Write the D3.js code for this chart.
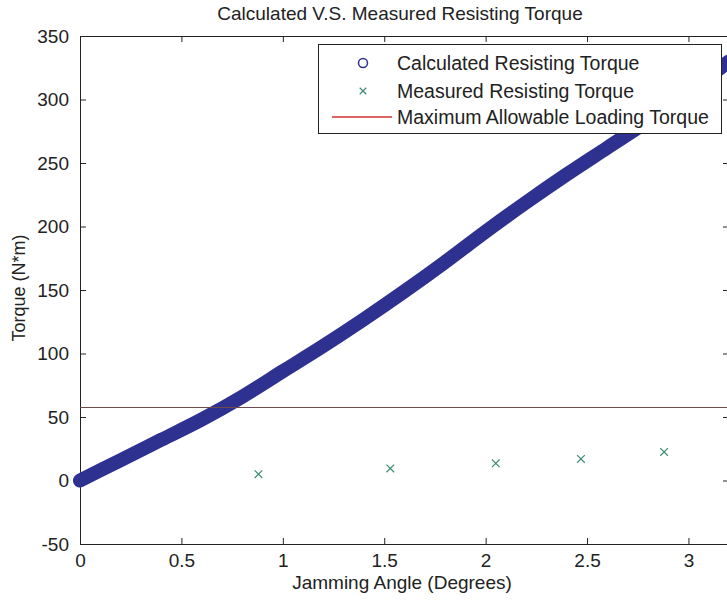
<!DOCTYPE html>
<html>
<head>
<meta charset="utf-8">
<style>
  body { margin: 0; background: #fff; }
  text { font-family: "Liberation Sans", Arial, sans-serif; fill: #222; }
</style>
</head>
<body>
<svg width="727" height="600"></svg>
<script src="https://d3js.org/d3.v7.min.js"></script>
<script>

  // calculated resisting torque, every 0.2 degrees
  var calcAngle = [0, 0.2, 0.4, 0.6, 0.8, 1.0, 1.2, 1.4, 1.6, 1.8, 2.0, 2.2, 2.4, 2.6, 2.8, 3.0, 3.2];
  var calcTorque = [0, 16, 32, 48, 66, 86, 106, 127, 149, 172, 196, 219, 241, 262, 283, 306, 330];

  // measured resisting torque (x markers)
  var measAngle = [0.88, 1.53, 2.05, 2.47, 2.88];
  var measTorque = [5, 9.5, 13.5, 17, 22.5];

  // maximum allowable loading torque
  var maxTorque = 57.5;

  var xTicks = [0, 0.5, 1, 1.5, 2, 2.5, 3];
  var yTicks = [-50, 0, 50, 100, 150, 200, 250, 300, 350];

  var seriesNames = ["Calculated Resisting Torque", "Measured Resisting Torque", "Maximum Allowable Loading Torque"];

  var svg = d3.select("svg"),
    m = {left: 80, top: 36, bottom: 544, right: 729};

  var x = d3.scaleLinear().domain([0, 3.2]).range([m.left, m.right]);
  var y = d3.scaleLinear().domain([-50, 350]).range([m.bottom, m.top]);

  var blue = "#2e3190", green = "#3f8c72", red = "#d23030";

  // title
  svg.append("text")
    .attr("x", 400).attr("y", 20)
    .attr("text-anchor", "middle")
    .style("font-size", "19px")
    .text("Calculated V.S. Measured Resisting Torque");

  // axes (MATLAB style: ticks point inward, box on)
  var xAxis = svg.append("g")
    .attr("transform", "translate(0," + m.bottom + ")")
    .call(d3.axisBottom(x).tickValues(xTicks).tickSizeInner(-6).tickSizeOuter(0).tickPadding(10)
      .tickFormat(function (d) { return String(d); }));
  svg.append("g")
    .attr("transform", "translate(0," + m.top + ")")
    .call(d3.axisTop(x).tickValues(xTicks).tickSizeInner(-6).tickSizeOuter(0).tickFormat(""));
  var yAxis = svg.append("g")
    .attr("transform", "translate(" + m.left + ",0)")
    .call(d3.axisLeft(y).tickValues(yTicks).tickSizeInner(-6).tickSizeOuter(0).tickPadding(10)
      .tickFormat(function (d) { return String(d); }));
  svg.append("g")
    .attr("transform", "translate(" + m.right + ",0)")
    .call(d3.axisRight(y).tickValues(yTicks).tickSizeInner(-6).tickSizeOuter(0).tickFormat(""));

  svg.selectAll(".domain").attr("stroke", "#222");
  svg.selectAll(".tick line").attr("stroke", "#222");
  xAxis.selectAll(".tick text").style("font-size", "19px").attr("fill", "#222");
  yAxis.selectAll(".tick text").style("font-size", "19px").attr("fill", "#222").attr("dx", "-1");

  // axis labels
  svg.append("text")
    .attr("x", 402).attr("y", 589)
    .attr("text-anchor", "middle")
    .style("font-size", "19px")
    .text("Jamming Angle (Degrees)");
  svg.append("text")
    .attr("transform", "translate(25,288) rotate(-90)")
    .attr("text-anchor", "middle")
    .style("font-size", "18px")
    .text("Torque (N*m)");

  // calculated: dense circle markers form a thick band
  var calc = calcAngle.map(function (a, i) { return {a: a, t: calcTorque[i]}; });
  var line = d3.line()
    .x(function (d) { return x(d.a); })
    .y(function (d) { return y(d.t); })
    .curve(d3.curveMonotoneX);

  svg.append("path")
    .datum(calc)
    .attr("fill", "none")
    .attr("stroke", blue)
    .attr("stroke-width", 14)
    .attr("stroke-linecap", "round")
    .attr("d", line);

  svg.append("g").selectAll("circle")
    .data(calc)
    .join("circle")
    .attr("cx", function (d) { return x(d.a); })
    .attr("cy", function (d) { return y(d.t); })
    .attr("r", 6)
    .attr("fill", blue)
    .attr("stroke", blue);

  // max allowable line
  svg.append("line")
    .attr("x1", x(0)).attr("x2", x(3.2))
    .attr("y1", y(maxTorque)).attr("y2", y(maxTorque))
    .attr("stroke", "#6e4a4a")
    .attr("stroke-width", 1.2);

  // measured x markers
  var meas = measAngle.map(function (a, i) { return {a: a, t: measTorque[i]}; });
  svg.append("g").selectAll("path")
    .data(meas)
    .join("path")
    .attr("transform", function (d) { return "translate(" + x(d.a) + "," + y(d.t) + ")"; })
    .attr("d", d3.symbol(d3.symbolX, 40))
    .attr("fill", "none")
    .attr("stroke", green)
    .attr("stroke-width", 1.2);

  // legend
  var lg = svg.append("g");
  lg.append("rect")
    .attr("x", 318.5).attr("y", 44.5)
    .attr("width", 403).attr("height", 89)
    .attr("fill", "#fff")
    .attr("stroke", "#222");

  var rowY = [63, 91, 117];
  seriesNames.forEach(function (name, i) {
    lg.append("text")
      .attr("x", 397).attr("y", rowY[i])
      .attr("dy", "0.35em")
      .style("font-size", "19.5px")
      .text(name);
  });
  lg.append("circle")
    .attr("cx", 363).attr("cy", rowY[0])
    .attr("r", 4.5)
    .attr("fill", "none")
    .attr("stroke", blue)
    .attr("stroke-width", 1.5);
  lg.append("path")
    .attr("transform", "translate(363," + rowY[1] + ")")
    .attr("d", d3.symbol(d3.symbolX, 30))
    .attr("fill", "none")
    .attr("stroke", green)
    .attr("stroke-width", 1.2);
  lg.append("line")
    .attr("x1", 332).attr("x2", 392)
    .attr("y1", rowY[2]).attr("y2", rowY[2])
    .attr("stroke", red)
    .attr("stroke-width", 1.5);

</script>
</body>
</html>
